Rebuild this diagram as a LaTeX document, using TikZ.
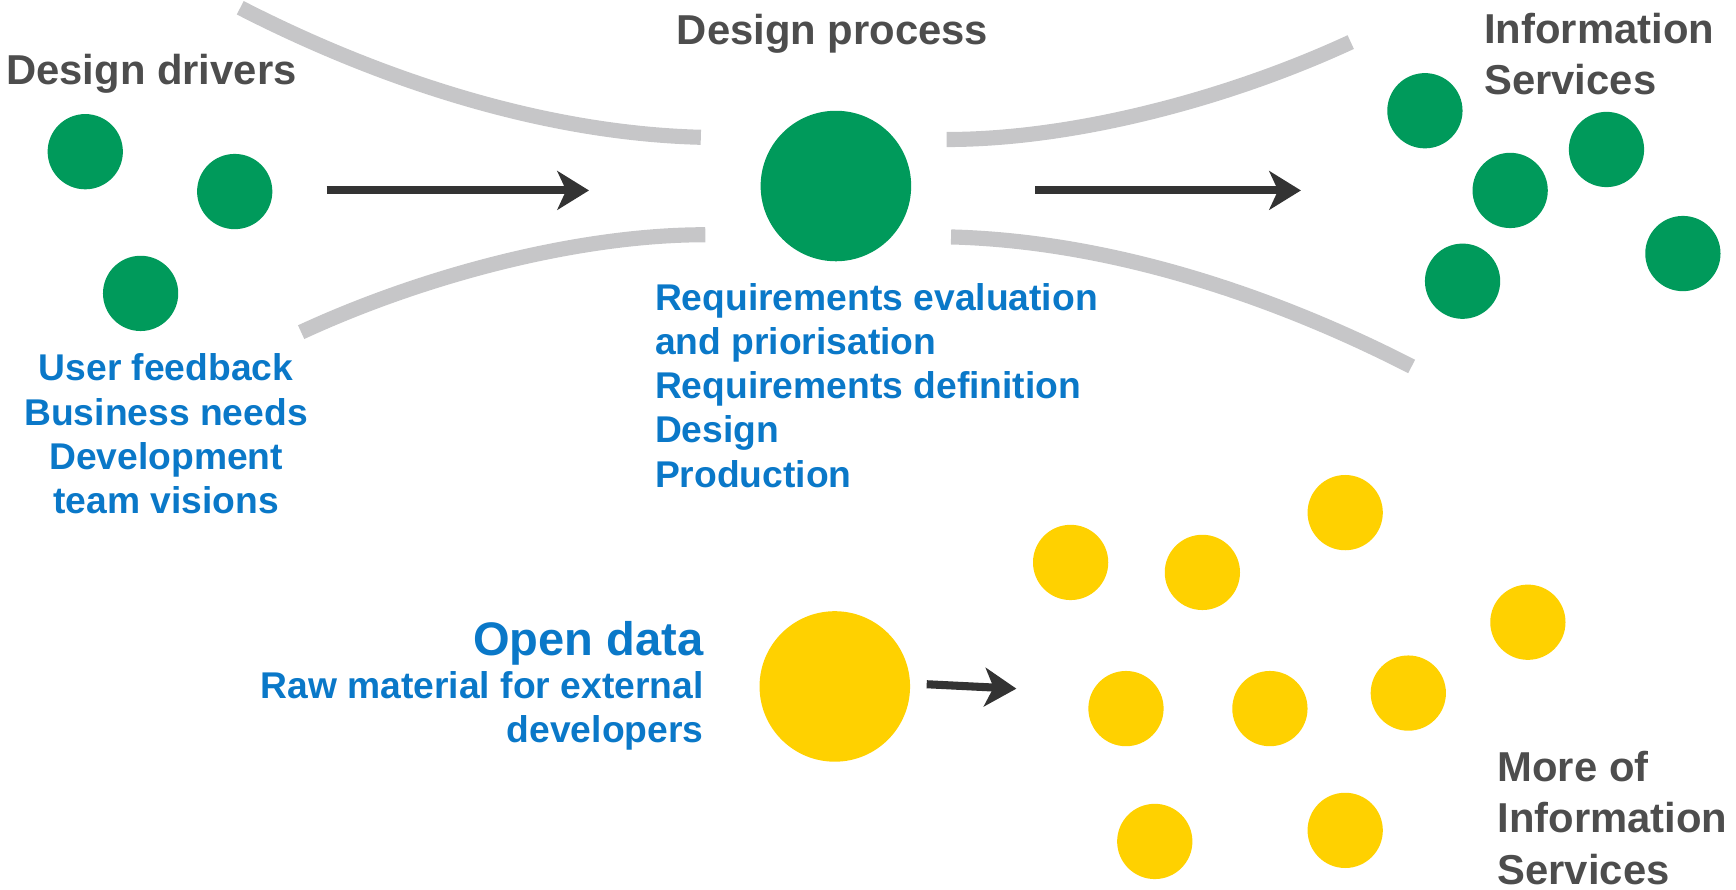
\documentclass[tikz,border=0pt]{standalone}
\usepackage{fontspec}
\setmainfont{Liberation Sans}
\usepackage{tikz}
\usetikzlibrary{arrows.meta}
\definecolor{dgreen}{HTML}{009A5B}
\definecolor{dyellow}{HTML}{FFD100}
\definecolor{tblue}{HTML}{0A78C8}
\definecolor{tgray}{HTML}{4D4D4D}
\definecolor{lgray}{HTML}{C6C6C8}
\definecolor{darrow}{HTML}{333333}
\begin{document}
\begin{tikzpicture}[x=0.0110714cm, y=-0.0110714cm,
      gdot/.style={circle,fill=dgreen,minimum size=7.53mm,inner sep=0mm},
      ydot/.style={gdot,fill=dyellow},
      bigdot/.style={minimum size=15.06mm},
      flow/.style={draw=lgray,line width=4.3pt},
      push/.style={draw=darrow,line width=2.3pt,-{Stealth[length=9pt,width=11pt,inset=2.5pt]}},
      headtxt/.style={inner sep=0mm,text=tgray,align=left,font=\fontsize{11.9}{14.6}\selectfont\bfseries},
      bluetxt/.style={inner sep=0mm,text=tblue,font=\fontsize{10.6}{12.6}\selectfont\bfseries}]
      \useasboundingbox (0,0) rectangle (1568,803);

      % design drivers
      \node[gdot] (drv1) at (77,137) {};
      \node[gdot] (drv2) at (212,173) {};
      \node[gdot] (drv3) at (127,265) {};
      \node[headtxt,anchor=north west] (drvtitle) at (5,48) {Design drivers};
      \node[bluetxt,align=center,anchor=north] (drvtext) at (150,319)
        {User feedback\\Business needs\\Development\\team visions};

      % design process
      \draw[flow] (217,7) .. controls (330,65) and (480,120) .. (633,124);
      \draw[flow] (272,300) .. controls (380,250) and (520,212) .. (637,212);
      \draw[flow] (855,126) .. controls (972,126) and (1112,88) .. (1220,38);
      \draw[flow] (859,214) .. controls (1012,218) and (1162,273) .. (1275,331);
      \node[gdot,bigdot] (proc) at (755,168) {};
      \node[headtxt,anchor=north] (proctitle) at (752,12) {Design process};
      \node[bluetxt,align=left,anchor=north west] (proctext) at (591,255)
        {Requirements evaluation\\and priorisation\\Requirements definition\\Design\\Production};

      % information services
      \node[gdot] (srv1) at (1287,100) {};
      \node[gdot] (srv2) at (1451,135) {};
      \node[gdot] (srv3) at (1364,172) {};
      \node[gdot] (srv4) at (1520,229) {};
      \node[gdot] (srv5) at (1321,254) {};
      \node[headtxt,anchor=north west] (srvtitle) at (1340,11) {Information\\Services};

      \coordinate (a1) at (295,172);
      \coordinate (b1) at (532,172);
      \coordinate (a2) at (935,172);
      \coordinate (b2) at (1175,172);
      \draw[push] (a1) -- (b1);
      \draw[push] (a2) -- (b2);

      % open data
      \node[ydot,bigdot] (open) at (754,620) {};
      \node[inner sep=0mm,text=tblue,anchor=north east,font=\fontsize{13.4}{15}\selectfont\bfseries] (opentitle) at (636,561) {Open data};
      \node[bluetxt,align=right,anchor=north east] (opentext) at (636,606)
        {Raw material for external\\developers};
      \node[ydot] (more1) at (1215,463) {};
      \node[ydot] (more2) at (967,508) {};
      \node[ydot] (more3) at (1086,517) {};
      \node[ydot] (more4) at (1380,562) {};
      \node[ydot] (more5) at (1017,640) {};
      \node[ydot] (more6) at (1147,640) {};
      \node[ydot] (more7) at (1272,626) {};
      \node[ydot] (more8) at (1043,760) {};
      \node[ydot] (more9) at (1215,750) {};
      \node[headtxt,anchor=north west] (moretitle) at (1352,678) {More of\\Information\\Services};
      \coordinate (a3) at (837,618);
      \coordinate (b3) at (918,622);
      \draw[push] (a3) -- (b3);
\end{tikzpicture}
\end{document}
